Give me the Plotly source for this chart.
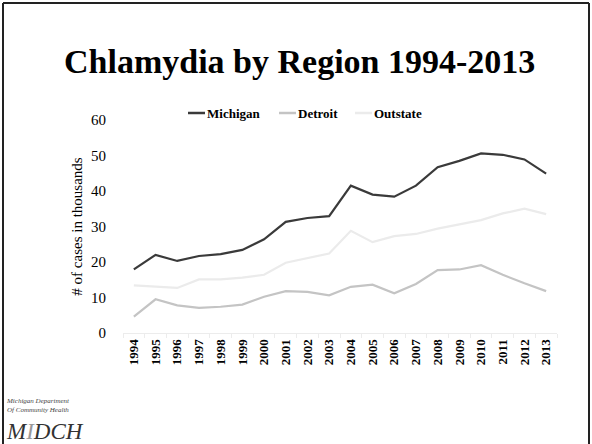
import plotly.graph_objects as go

years = [str(y) for y in range(1994, 2014)]
michigan = [17.9, 22.0, 20.3, 21.7, 22.2, 23.4, 26.4, 31.3, 32.4, 32.9, 41.5, 39.0, 38.4, 41.5, 46.7, 48.5, 50.6, 50.2, 48.9, 44.9]
detroit = [4.6, 9.5, 7.8, 7.1, 7.4, 8.0, 10.2, 11.8, 11.6, 10.6, 13.0, 13.6, 11.2, 13.8, 17.7, 17.9, 19.1, 16.4, 14.0, 11.8]
outstate = [13.4, 13.0, 12.7, 15.1, 15.1, 15.6, 16.4, 19.8, 21.1, 22.4, 28.8, 25.6, 27.3, 27.9, 29.4, 30.7, 31.8, 33.7, 35.0, 33.5]
y_ticks = [0, 10, 20, 30, 40, 50, 60]
series_names = ["Michigan", "Detroit", "Outstate"]
series_colors = ["#3a3a3a", "#c4c4c4", "#ebebeb"]

W, H = 592, 444
L, R, T, B = 123, 35, 120, 111
pw, ph = W - L - R, H - T - B

def px(x):
    return (x - L) / pw

def py(y):
    return (H - B - y) / ph

fig = go.Figure()
for name, vals, col in zip(series_names, [michigan, detroit, outstate], series_colors):
    fig.add_trace(go.Scatter(x=years, y=vals, name=name, mode="lines",
                             line=dict(color=col, width=2.2), showlegend=False))

fig.update_layout(
    width=W, height=H,
    margin=dict(l=L, r=R, t=T, b=B, autoexpand=False),
    paper_bgcolor="white", plot_bgcolor="white",
    font=dict(family="Liberation Serif", color="black"),
    xaxis=dict(type="category", range=[-0.5, 19.5], showgrid=False,
               showline=True, linecolor="#ececec", linewidth=1,
               ticks="outside", ticklen=4, tickcolor="#ececec", tickson="boundaries",
               tickangle=-90,
               tickfont=dict(size=13, family="Liberation Serif", color="black", weight="bold")),
    yaxis=dict(range=[0, 60], tickvals=y_ticks, showgrid=False, zeroline=False,
               showline=False, ticks="", ticklabelstandoff=16,
               tickfont=dict(size=15, family="Liberation Serif", color="black"),
               title=dict(text="# of cases in thousands", standoff=4,
                          font=dict(size=15, family="Liberation Serif", color="black"))),
)

# manual legend
leg_line_x = [188, 279, 355]
leg_y = 113
for name, col, lx in zip(series_names, series_colors, leg_line_x):
    fig.add_shape(type="line", xref="paper", yref="paper",
                  x0=px(lx), y0=py(leg_y), x1=px(lx + 17), y1=py(leg_y),
                  line=dict(color=col, width=2.5))
    fig.add_annotation(text=name, xref="paper", yref="paper",
                       x=px(lx + 17), y=py(leg_y), xanchor="left", yanchor="middle",
                       showarrow=False,
                       font=dict(size=13, family="Liberation Serif", color="black", weight="bold"))

fig.add_annotation(text="Chlamydia by Region 1994-2013", xref="paper", yref="paper",
                   x=px(299), y=py(61), xanchor="center", yanchor="middle", showarrow=False,
                   font=dict(size=34, family="Liberation Serif", color="black", weight="bold"))

# slide border
for x0, y0, x1, y1 in [(3, 3, 3, 444), (3, 3, 589, 3), (589, 3, 589, 444)]:
    fig.add_shape(type="line", xref="paper", yref="paper",
                  x0=px(x0), y0=py(y0), x1=px(x1), y1=py(y1),
                  line=dict(color="#222222", width=2))

# logo text
fig.add_annotation(text="Michigan Department<br>Of Community Health", xref="paper", yref="paper",
                   x=px(4), y=py(395), xanchor="left", yanchor="top", showarrow=False, align="left",
                   font=dict(size=7, family="Liberation Serif", color="#444444", style="italic"))
fig.add_annotation(text="M<span style='color:#999'>I</span>DCH", xref="paper", yref="paper",
                   x=px(4), y=py(431), xanchor="left", yanchor="middle", showarrow=False,
                   font=dict(size=23, family="Liberation Serif", color="#333333", style="italic"))

fig.write_html("out.html", config={"displayModeBar": False},
               post_script="document.body.style.margin='0';")
